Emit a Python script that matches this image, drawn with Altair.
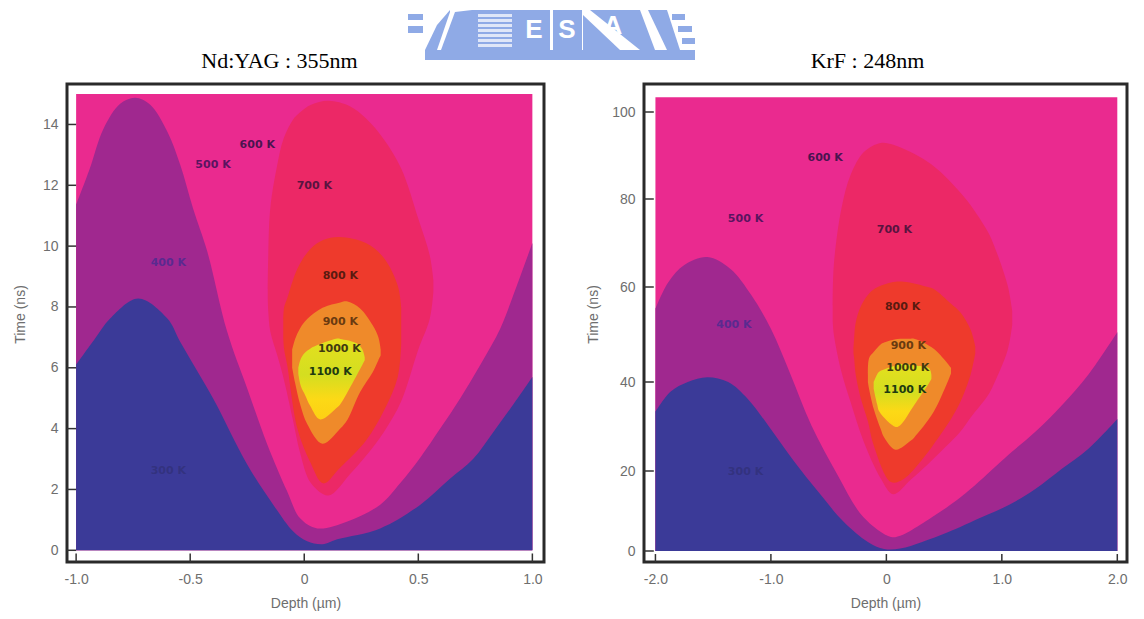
import altair as alt
import pandas as pd

BLUE, PURPLE, PINK = "#3b3a98", "#a0288f", "#ea2a8f"
RED7, RED8, ORANGE = "#ec2866", "#ee3a2c", "#ef8a2a"
LOGO = "#8faae6"
GREY = "#6e6e6e"
YELLOW = alt.Gradient(gradient="linear", x1=0, y1=0, x2=0, y2=1,
                      stops=[alt.GradientStop(offset=0, color="#e4e01e"),
                             alt.GradientStop(offset=0.45, color="#d4de20"),
                             alt.GradientStop(offset=0.75, color="#fcd916"),
                             alt.GradientStop(offset=1, color="#fdd014")])

# ---------- Nd:YAG panel ----------
L_blue_x = [-1, -.917, -.851, -.728, -.60, -.544, -.4, -.25, -.136, -.048, .013, .08, .145, .333, .509, .64, .74, .83, .917, 1]
L_blue_y = [6.1, 6.96, 7.62, 8.28, 7.62, 6.86, 5.0, 2.82, 1.5, .62, .3, .2, .36, .72, 1.5, 2.36, 3.0, 3.9, 4.8, 5.7]
L_purple_x = [-1, -.94, -.88, -.807, -.741, -.675, -.60, -.544, -.487, -.425, -.338, -.25, -.162, -.075, -.018, .057, .189, .333, .42, .509, .596, .684, .772, .86, .917, 1]
L_purple_y = [11.36, 12.55, 13.86, 14.68, 14.88, 14.65, 13.76, 12.68, 11.23, 9.82, 7.19, 5.32, 3.48, 1.94, 1.05, .72, .95, 1.5, 2.2, 3.05, 4.0, 5.0, 6.1, 7.3, 8.4, 10.1]
L_700 = ([-.16, -.158, -.149, -.118, -.092, -.05, -.018, .03, .106, .2, .27, .35, .425, .5, .55, .566],
         [8.3, 7.9, 7.2, 6.4, 5.7, 4.3, 3.2, 2.2, 1.8, 2.5, 3.1, 3.9, 4.9, 6.6, 7.6, 8.5],
         [8.6, 9.6, 11.23, 12.68, 13.5, 14.15, 14.4, 14.65, 14.78, 14.6, 14.2, 13.5, 12.55, 10.9, 9.7, 8.9])
L_800 = ([-.092, -.088, -.075, -.03, .026, .083, .155, .27, .35, .41, .425],
         [7.0, 6.6, 6.1, 4.0, 2.9, 2.2, 2.7, 3.6, 4.6, 5.7, 6.8],
         [7.6, 8.0, 8.28, 9.26, 9.9, 10.2, 10.3, 10.1, 9.6, 8.7, 8.0])
L_900 = ([-.053, -.04, -.018, .013, .08, .158, .19, .245, .30, .325, .335],
         [6.0, 5.5, 4.8, 4.15, 3.5, 4, 4.3, 5.2, 5.85, 6.25, 6.4],
         [6.6, 6.95, 7.3, 7.6, 7.97, 8.15, 8.18, 7.95, 7.4, 7.0, 6.6])
L_1000 = ([-.026, -.015, .004, .026, .07, .145, .158, .232, .255, .265],
          [5.8, 5.4, 5.1, 4.75, 4.3, 4.7, 4.8, 5.78, 6.1, 6.25],
          [6.0, 6.3, 6.5, 6.63, 6.78, 6.96, 6.95, 6.8, 6.6, 6.35])
L_labels = ["600 K", "500 K", "700 K", "400 K", "800 K", "900 K", "1000 K", "1100 K", "300 K"]
L_label_x = [-.206, -.40, .044, -.596, .158, .158, .154, .114, -.596]
L_label_y = [13.33, 12.68, 11.99, 9.43, 9.03, 7.52, 6.63, 5.85, 2.6]
L_label_c = ["#4a1450", "#5a1460", "#5a1440", "#5a2a90", "#5a1a10", "#6a3a10", "#403a10", "#203a10", "#33327f"]
L_xticks = [-1, -.5, 0, .5, 1]
L_yticks = [0, 2, 4, 6, 8, 10, 12, 14]

# ---------- KrF panel ----------
R_blue_x = [-2, -1.87, -1.72, -1.55, -1.37, -1.2, -1, -.8, -.59, -.37, -.16, -.02, .12, .31, .6, .77, 1.06, 1.29, 1.52, 1.75, 2]
R_blue_y = [33.3, 37.8, 40, 41, 40, 36.2, 29.4, 22.2, 14.8, 7.3, 2.25, .5, .6, 2.25, 5.5, 7.75, 11.5, 15.5, 20.5, 25, 31.7]
R_purple_x = [-2, -1.89, -1.75, -1.55, -1.35, -1.17, -1, -.83, -.65, -.42, -.2, .04, .12, .29, .6, .77, 1.06, 1.29, 1.52, 1.75, 2]
R_purple_y = [55.4, 61, 65, 66.8, 64.1, 58.3, 51.2, 41.6, 30.3, 18.9, 8.5, 3.5, 3.8, 6.5, 12.5, 16.5, 23.7, 28.8, 34.8, 41.6, 50.5]
R_700 = ([-.465, -.455, -.39, -.31, -.195, -.05, .06, .21, .36, .47, .64, .73, .88, .93, 1.05, 1.09],
         [53, 50, 42.2, 35.5, 26.5, 18.2, 14.2, 17.8, 21.5, 24.3, 28.8, 32, 37, 39.5, 46.7, 52],
         [56, 65, 77.7, 85.5, 90.8, 92.9, 92.5, 90.8, 88.5, 86.2, 81.5, 78.6, 72.5, 69.6, 60.4, 55])
R_800 = ([-.285, -.28, -.265, -.22, -.16, -.11, .04, .15, .36, .41, .56, .64, .73, .77],
         [46, 45.2, 41.5, 36.2, 31.2, 25.8, 17.25, 18, 24.2, 26, 31.7, 35.5, 41.6, 46],
         [47, 49, 52.6, 56, 58.3, 59.5, 61, 61.2, 60, 59.6, 56.5, 54.7, 51, 47.5])
R_900 = ([-.16, -.15, -.11, -.05, -.02, .08, .21, .24, .41, .56],
         [40, 38.5, 34, 29.5, 27.6, 24.8, 26.8, 27.5, 33.3, 41.8],
         [41.5, 45, 46.3, 47.9, 48.3, 49, 49.1, 49.1, 47, 43])
R_1000 = ([-.11, -.08, -.06, .08, .12, .24, .37, .39],
          [38.5, 35, 33.3, 29.9, 30.3, 34.8, 39.8, 40.7],
          [40, 41.6, 42.2, 43.5, 43.8, 43.5, 42.9, 41.5])
R_labels = ["600 K", "500 K", "700 K", "800 K", "400 K", "900 K", "1000 K", "1100 K", "300 K"]
R_label_x = [-.53, -1.22, .07, .14, -1.32, .19, .185, .16, -1.22]
R_label_y = [89.4, 75.4, 72.9, 55.8, 52, 47.6, 43, 38.2, 19.75]
R_label_c = ["#4a1450", "#5a1460", "#5a1440", "#5a1a10", "#5a2a90", "#6a3a10", "#403a10", "#203a10", "#33327f"]
R_xticks = [-2, -1, 0, 1, 2]
R_yticks = [0, 20, 40, 60, 80, 100]

# ---------- logo strip (page-pixel units) ----------
logo_rects = [(425, 695, 50, 60), (472, 517, 10, 50), (517, 550, 10, 50), (553, 582, 10, 50),
              (408, 423, 14, 20), (408, 423, 26, 33), (672, 685, 14, 20), (678, 692, 26, 32), (682, 695, 38, 44)]
logo_stripes = [14, 19, 24, 29, 34, 39, 44]
logo_polys = [([425, 437, 450], [50, 25, 10], [50, 50, 12]),
              ([441, 455, 472], [50, 12, 10], [50, 50, 50]),
              ([590, 640, 655], [10, 10, 50], [10, 50, 50]),
              ([583, 620], [15, 50], [50, 50]),
              ([648, 667, 680], [10, 10, 50], [10, 50, 50])]
logo_text = [("E", 534, 30), ("S", 567, 30), ("A", 613, 26)]
titles = [("Nd:YAG : 355nm", 279.5, 61), ("KrF : 248nm", 867.5, 61)]


def panel(xd, yd, yr, w, h, xt, yt, lay, labels, axis_x, title_x, xtick_len, ytick_len):
    fx = alt.Scale(domain=xd, nice=False, zero=False)
    fy = alt.Scale(domain=yd, range=yr, nice=False, zero=False) if yr else alt.Scale(domain=yd, nice=False, zero=False)
    xax = alt.Axis(values=xt, title="Depth (µm)", grid=False, domain=False, ticks=False,
                   labelExpr="datum.value === 0 ? '0' : (datum.value < 0 ? '-' : '') + format(abs(datum.value), '.1f')",
                   labelPadding=10, titlePadding=10, labelFontSize=14, titleFontSize=14,
                   labelColor=GREY, titleColor=GREY, labelFont="Liberation Sans", titleFont="Liberation Sans",
                   titleFontWeight="normal")
    yax = alt.Axis(values=yt, title="Time (ns)", grid=False, domain=False, ticks=False, format="d",
                   labelPadding=9, labelFontSize=14, titleFontSize=14, titleX=title_x, titleY=230,
                   labelColor=GREY, titleColor=GREY, labelFont="Liberation Sans", titleFont="Liberation Sans",
                   titleFontWeight="normal", minExtent=axis_x, maxExtent=axis_x)
    X = alt.X("x:Q", scale=fx, axis=xax)
    Y = alt.Y("y:Q", scale=fy, axis=yax)

    bg = alt.Chart(pd.DataFrame({"x": [lay["xmin"]], "x2": [lay["xmax"]], "y": [0], "y2": [lay["ymax"]]})).mark_rect(
        fill=PINK).encode(x=X, x2="x2:Q", y=Y, y2="y2:Q")
    layers = [bg]
    for key, col in (("purple", PURPLE), ("blue", BLUE)):
        xs, ys = lay[key]
        d = pd.DataFrame({"x": xs, "y": ys, "y0": [0] * len(xs)})
        layers.append(alt.Chart(d).mark_area(color=col, interpolate="catmull-rom", orient="vertical").encode(
            x=X, y=Y, y2="y0:Q"))
    for key, col in (("700", RED7), ("800", RED8), ("900", ORANGE), ("1000", YELLOW)):
        xs, lo, hi = lay[key]
        d = pd.DataFrame({"x": xs, "y": hi, "y0": lo})
        layers.append(alt.Chart(d).mark_area(color=col, interpolate="catmull-rom", orient="vertical").encode(
            x=X, y=Y, y2="y0:Q"))
    t = pd.DataFrame({"x": labels[1], "y": labels[2], "t": labels[0], "c": labels[3]})
    layers.append(alt.Chart(t).mark_text(fontSize=11, fontWeight="bold", font="DejaVu Sans").encode(
        x=X, y=Y, text="t:N", color=alt.Color("c:N", scale=None)))
    dx = pd.DataFrame({"x": xt, "y": [yd[0]] * len(xt), "y2": [yd[0] + ytick_len] * len(xt)})
    layers.append(alt.Chart(dx).mark_rule(color="#333333", strokeWidth=1.5).encode(x=X, y=Y, y2="y2:Q"))
    dy = pd.DataFrame({"y": yt, "x": [xd[0]] * len(yt), "x2": [xd[0] + xtick_len] * len(yt)})
    layers.append(alt.Chart(dy).mark_rule(color="#333333", strokeWidth=1.5).encode(x=X, x2="x2:Q", y=Y))
    return alt.layer(*layers).properties(width=w, height=h, view=alt.ViewConfig(stroke="#2a2a2a", strokeWidth=3))


left = panel([-1.04, 1.051], [-.385, 15.33], None, 477, 478, L_xticks, L_yticks,
             dict(xmin=-1, xmax=1, ymax=15, purple=(L_purple_x, L_purple_y), blue=(L_blue_x, L_blue_y),
                  **{"700": L_700, "800": L_800, "900": L_900, "1000": L_1000}),
             (L_labels, L_label_x, L_label_y, L_label_c), 55, -40, .04, .28)
right = panel([-2.099, 2.084], [-2.9, 0, 20, 40, 60, 80, 100, 106.4], [478, 467, 387, 298, 203, 115, 28, 0],
              483, 478, R_xticks, R_yticks,
              dict(xmin=-2, xmax=2, ymax=103.4, purple=(R_purple_x, R_purple_y), blue=(R_blue_x, R_blue_y),
                   **{"700": R_700, "800": R_800, "900": R_900, "1000": R_1000}),
              (R_labels, R_label_x, R_label_y, R_label_c), 55, -44, .085, 2.1)

hx = alt.Scale(domain=[67, 1127], nice=False, zero=False)
hy = alt.Scale(domain=[82, 8], nice=False, zero=False)
HX = alt.X("x:Q", scale=hx, axis=None)
HY = alt.Y("y:Q", scale=hy, axis=None)
hl = []
rd = pd.DataFrame(logo_rects, columns=["x", "x2", "y", "y2"])
hl.append(alt.Chart(rd).mark_rect(fill=LOGO).encode(x=HX, x2="x2:Q", y=HY, y2="y2:Q"))
for xs, top, bot in logo_polys:
    d = pd.DataFrame({"x": xs, "y": top, "y0": bot})
    hl.append(alt.Chart(d).mark_area(color=LOGO, orient="vertical").encode(x=HX, y=HY, y2="y0:Q"))
sd = pd.DataFrame({"x": [478] * 7, "x2": [512] * 7, "y": logo_stripes, "y2": [s + 3 for s in logo_stripes]})
hl.append(alt.Chart(sd).mark_rect(fill="#dfe6f8").encode(x=HX, x2="x2:Q", y=HY, y2="y2:Q"))
ld = pd.DataFrame(logo_text, columns=["t", "x", "y"])
hl.append(alt.Chart(ld).mark_text(color="white", fontSize=26, font="Liberation Sans", fontWeight="bold").encode(
    x=HX, y=HY, text="t:N"))
td = pd.DataFrame(titles, columns=["t", "x", "y"])
hl.append(alt.Chart(td).mark_text(color="black", fontSize=22, font="Liberation Serif").encode(
    x=HX, y=HY, text="t:N"))
header = alt.layer(*hl).properties(width=1060, height=74, view=alt.ViewConfig(stroke=None))

chart = alt.vconcat(header, alt.hconcat(left, right, spacing=38), spacing=0).properties(
    padding={"left": 2, "top": 0, "right": 0, "bottom": 0})
chart.save("out.html", embed_options={"renderer": "svg", "actions": False})
